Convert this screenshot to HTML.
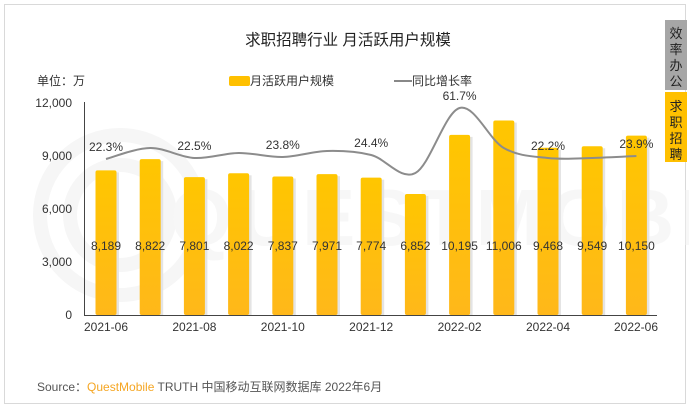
<!DOCTYPE html>
<html><head><meta charset="utf-8"><style>
body{margin:0;background:#fff;}
svg{display:block;font-family:"Liberation Sans","Noto Sans CJK SC",sans-serif;}
</style></head><body>
<svg width="689" height="408" viewBox="0 0 689 408">
<defs>
<linearGradient id="bg" x1="0" y1="0" x2="0" y2="1"><stop offset="0" stop-color="#ffc600"/><stop offset="1" stop-color="#ffb81a"/></linearGradient>
</defs>
<rect x="4.5" y="4.5" width="681" height="399" fill="#fff" stroke="#d9d9d9"/>
<g fill="none" stroke="#f6f6f6" stroke-width="14">
<circle cx="120" cy="215" r="80"/>
<circle cx="120" cy="215" r="50"/>
</g>
<text x="170" y="245" font-size="80" fill="#f7f7f7" font-weight="bold" letter-spacing="6">QUESTMOBILE</text>
<text x="348" y="45" text-anchor="middle" font-size="15.5" fill="#222">求职招聘行业 月活跃用户规模</text>
<text x="37" y="85" font-size="12" fill="#333">单位：万</text>
<rect x="229" y="76" width="21" height="10" rx="2" fill="#ffc000"/>
<text x="250" y="85" font-size="12" fill="#333">月活跃用户规模</text>
<line x1="394" y1="81" x2="412" y2="81" stroke="#888" stroke-width="2"/>
<text x="412" y="85" font-size="12" fill="#333">同比增长率</text>
<g font-size="12" fill="#333" text-anchor="end">
<text x="72" y="107">12,000</text><text x="72" y="160">9,000</text><text x="72" y="213">6,000</text><text x="72" y="266">3,000</text><text x="72" y="319">0</text>
</g>
<line x1="84.5" y1="102" x2="84.5" y2="315" stroke="#444"/>
<line x1="84" y1="315.5" x2="657" y2="315.5" stroke="#444"/>
<g id="bars"></g>
<g font-size="12" fill="#333" text-anchor="middle">
<text x="106" y="331">2021-06</text><text x="194.4" y="331">2021-08</text><text x="282.8" y="331">2021-10</text><text x="371.2" y="331">2021-12</text><text x="459.6" y="331">2022-02</text><text x="548" y="331">2022-04</text><text x="636" y="331">2022-06</text>
</g>
<text x="37" y="391" font-size="12" fill="#555">Source：<tspan fill="#f5a623">QuestMobile</tspan> TRUTH 中国移动互联网数据库 2022年6月</text>
<rect x="665" y="20" width="22" height="70" fill="#a6a6a6"/>
<rect x="665" y="92" width="22" height="70" fill="#ffc000"/>
<g font-size="13" fill="#222" text-anchor="middle">
<text x="676" y="38">效</text><text x="676" y="54">率</text><text x="676" y="70">办</text><text x="676" y="86">公</text>
<text x="676" y="111">求</text><text x="676" y="127">职</text><text x="676" y="143">招</text><text x="676" y="159">聘</text>
</g>
</svg>
<script>
const vals=[8189,8822,7801,8022,7837,7971,7774,6852,10195,11006,9468,9549,10150];
const ys=[159,148,158,153,157,151,155,173,108,148,158,158,156];
const labs={0:"22.3%",2:"22.5%",4:"23.8%",6:"24.4%",8:"61.7%",10:"22.2%",12:"23.9%"};
const ns="http://www.w3.org/2000/svg";const g=document.getElementById('bars');const svg=g.ownerSVGElement;
function el(t,a,p,txt){const e=document.createElementNS(ns,t);for(const k in a)e.setAttribute(k,a[k]);if(txt)e.textContent=txt;(p||svg).appendChild(e);return e;}
const xs=vals.map((v,i)=>106+i*44.2);
vals.forEach((v,i)=>{const h=v*212/12000;const x=xs[i];
el('rect',{x:x-8,y:315-h+2,width:21,height:h-2,fill:'#e4e4e4'},g);
el('rect',{x:x-10.5,y:315-h,width:21,height:h,rx:2,fill:'url(#bg)'},g);
el('text',{x:x,y:250,'font-size':12,fill:'#333','text-anchor':'middle'},g,v.toLocaleString('en-US'));});
let d=`M${xs[0]},${ys[0]}`;
for(let i=0;i<xs.length-1;i++){const p0=[xs[Math.max(i-1,0)],ys[Math.max(i-1,0)]],p1=[xs[i],ys[i]],p2=[xs[i+1],ys[i+1]],p3=[xs[Math.min(i+2,12)],ys[Math.min(i+2,12)]];
d+=` C${p1[0]+(p2[0]-p0[0])/6},${p1[1]+(p2[1]-p0[1])/6} ${p2[0]-(p3[0]-p1[0])/6},${p2[1]-(p3[1]-p1[1])/6} ${p2[0]},${p2[1]}`;}
el('path',{d:d,fill:'none',stroke:'#8c8c8c','stroke-width':2});
for(const i in labs){el('text',{x:xs[i],y:ys[i]-8,'font-size':12,fill:'#333','text-anchor':'middle'},null,labs[i]);}
</script>
</body></html>
